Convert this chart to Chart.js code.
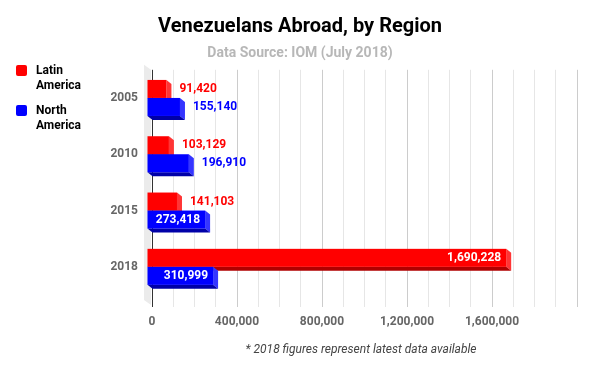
<!DOCTYPE html>
<html>
<head>
<meta charset="utf-8">
<script src="https://cdn.jsdelivr.net/npm/chart.js@4.4.0/dist/chart.umd.min.js"></script>
<style>
  body { margin: 0; background: #fff; font-family: Roboto, sans-serif; }
  #wrap { position: relative; width: 600px; height: 371px; }
  .legend { position: absolute; left: 16px; top: 63px; font-weight: bold; font-size: 12px; color: #000; }
  .legend .item { display: flex; align-items: flex-start; line-height: 15px; margin-bottom: 10px; }
  .legend .swatch { width: 11px; height: 11px; border-radius: 2px; margin: 2px 9px 0 0; flex: none; }
  .note { position: absolute; left: 361px; top: 342px; transform: translateX(-50%); white-space: nowrap;
          font-style: italic; font-size: 12px; line-height: 14px; color: #444; }
</style>
</head>
<body>
<div id="wrap">
  <canvas id="regionChart"></canvas>
  <div class="legend" id="legend"></div>
  <div class="note">* 2018 figures represent latest data available</div>
</div>
<script>
const years = ['2005', '2010', '2015', '2018'];
const latinAmerica = [91420, 103129, 141103, 1690228];
const northAmerica = [155140, 196910, 273418, 310999];
const seriesNames = ['Latin\nAmerica', 'North\nAmerica'];
const xMax = 2000000;
const xStep = 100000;
const xLabelStep = 400000;

const DX = 5, DY = 4;

function poly(ctx, pts) {
    ctx.beginPath();
    ctx.moveTo(pts[0][0], pts[0][1]);
    for (let i = 1; i < pts.length; i++) ctx.lineTo(pts[i][0], pts[i][1]);
    ctx.closePath();
    ctx.fill();
}

const bars3d = {
    id: 'bars3d',
    beforeDatasetsDraw(chart) {
        const { ctx, chartArea } = chart;
        // grey side wall of the 3d box
        ctx.save();
        ctx.fillStyle = '#ebebeb';
        poly(ctx, [
            [chartArea.left - 8, chartArea.top - 5],
            [chartArea.left - 1, chartArea.top],
            [chartArea.left - 1, chartArea.bottom + 10],
            [chartArea.left - 8, chartArea.bottom + 5]
        ]);
        ctx.restore();
    },
    afterDatasetsDraw(chart) {
        const ctx = chart.ctx;
        ctx.save();
        const labels = [];
        chart.data.datasets.forEach((ds, di) => {
            const meta = chart.getDatasetMeta(di);
            meta.data.forEach((bar, i) => {
                const { x, y, base, height } = bar.getProps(['x', 'y', 'base', 'height'], true);
                const top = y - height / 2, bot = y + height / 2;
                const fl = base - DX, fr = x - DX;
                ctx.fillStyle = ds.sideColor;
                poly(ctx, [[fr, top], [x, top + DY], [x, bot + DY], [fr, bot]]);
                ctx.fillStyle = ds.bottomColor;
                poly(ctx, [[fl, bot], [fr, bot], [x, bot + DY], [base, bot + DY]]);
                ctx.fillStyle = ds.frontColor;
                ctx.fillRect(fl, top, fr - fl, height);
                labels.push({ text: ds.data[i].toLocaleString('en-US'), x, base, y, color: ds.frontColor });
            });
        });
        ctx.font = 'bold 12px Roboto';
        ctx.textBaseline = 'middle';
        labels.forEach(l => {
            const tw = ctx.measureText(l.text).width;
            if (tw + 8 <= l.x - l.base) {
                ctx.textAlign = 'right';
                ctx.fillStyle = '#fff';
                ctx.fillText(l.text, l.x - DX - 5, l.y);
            } else {
                ctx.textAlign = 'left';
                ctx.fillStyle = l.color;
                ctx.fillText(l.text, l.x + 8, l.y);
            }
        });
        ctx.restore();
    }
};

const ctx = document.getElementById('regionChart').getContext('2d');
const chart = new Chart(ctx, {
    type: 'bar',
    data: {
        labels: years,
        datasets: [{
            label: seriesNames[0],
            data: latinAmerica,
            backgroundColor: 'rgba(0,0,0,0)',
            frontColor: '#ff0000',
            sideColor: '#ff3535',
            bottomColor: '#b00000'
        }, {
            label: seriesNames[1],
            data: northAmerica,
            backgroundColor: 'rgba(0,0,0,0)',
            frontColor: '#0000ff',
            sideColor: '#3535ff',
            bottomColor: '#0000a8'
        }]
    },
    options: {
        indexAxis: 'y',
        responsive: true,
        maintainAspectRatio: false,
        animation: false,
        categoryPercentage: 0.64,
        barPercentage: 1,
        layout: { padding: { left: 23, right: 23, top: 0, bottom: 42 } },
        plugins: {
            legend: { display: false },
            tooltip: { enabled: false },
            title: {
                display: true,
                text: 'Venezuelans Abroad, by Region',
                color: '#000',
                font: { family: 'Roboto', size: 20, weight: 'bold' },
                padding: { top: 15, bottom: 0 }
            },
            subtitle: {
                display: true,
                text: 'Data Source: IOM (July 2018)',
                color: '#b7b7b7',
                font: { family: 'Roboto', size: 14, weight: 'bold' },
                padding: { top: 6, bottom: 8 }
            }
        },
        scales: {
            x: {
                min: 0,
                max: xMax,
                border: { display: false },
                afterFit: s => { s.height = 34; },
                grid: {
                    tickLength: 12,
                    color: c => c.tick.value === 0 ? '#333' : (c.tick.value % xLabelStep === 0 ? '#cccccc' : '#e6e6e6')
                },
                ticks: {
                    stepSize: xStep,
                    autoSkip: false,
                    maxRotation: 0,
                    padding: 8,
                    color: '#666',
                    font: { family: 'Roboto', size: 12, weight: 'bold' },
                    callback: v => (v % xLabelStep === 0 && v < xMax) ? v.toLocaleString('en-US') : ''
                }
            },
            y: {
                border: { display: false },
                grid: { display: false, drawTicks: false },
                afterFit: s => { s.width = 129; },
                ticks: {
                    padding: 14,
                    color: '#666',
                    font: { family: 'Roboto', size: 12, weight: 'bold' }
                }
            }
        }
    },
    plugins: [bars3d]
});

const legend = document.getElementById('legend');
chart.data.datasets.forEach(ds => {
    const item = document.createElement('div');
    item.className = 'item';
    item.innerHTML = `<span class="swatch" style="background:${ds.frontColor}"></span><span>${ds.label.replace('\n', '<br>')}</span>`;
    legend.appendChild(item);
});
</script>
</body>
</html>
